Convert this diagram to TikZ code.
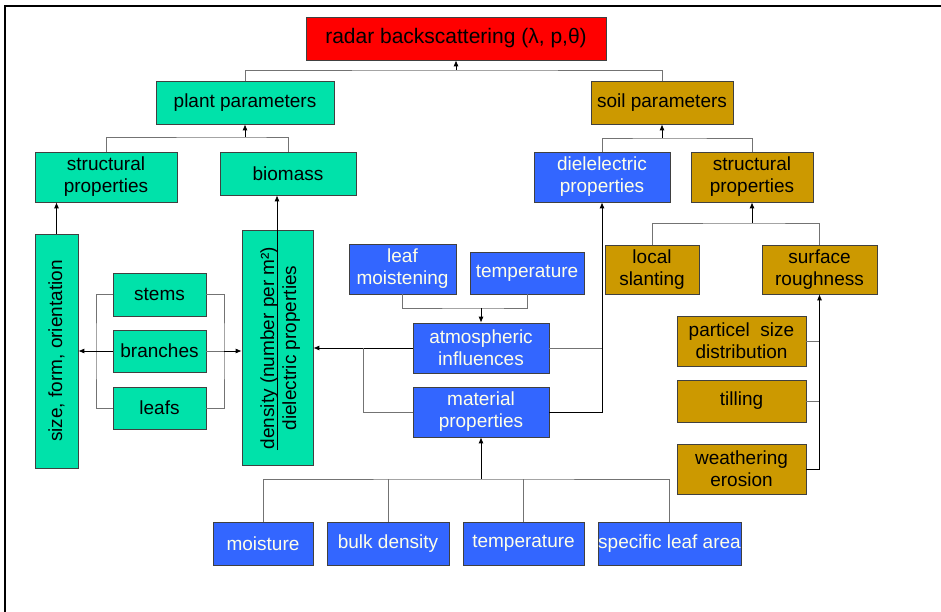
\documentclass[tikz,border=0pt]{standalone}
\usepackage{fontspec}
\setmainfont{Liberation Sans}
\usetikzlibrary{arrows.meta}

\definecolor{plantgreen}{RGB}{0,226,170}
\definecolor{soilbrown}{RGB}{204,153,0}
\definecolor{matblue}{RGB}{51,102,255}
\definecolor{radarred}{RGB}{255,0,0}
\definecolor{paletext}{RGB}{255,255,232}

\tikzset{
  box/.style={draw=black!75, line width=0.7pt, inner sep=0pt, align=center,
    font=\fontsize{19}{22}\selectfont},
  plantbox/.style={box, fill=plantgreen},
  soilbox/.style={box, fill=soilbrown},
  matbox/.style={box, fill=matblue, text=paletext},
  line/.style={draw=black!55, line width=0.8pt},
  arr/.style={draw=black, line width=0.8pt, -{Latex[length=6pt,width=5pt]}}
}

\begin{document}
\begin{tikzpicture}[x=1pt,y=-1pt]
\useasboundingbox (0,0) rectangle (941,612);

% frame
\draw[line width=1.6pt] (5,612) -- (5,6) -- (941,6);

% top levels
\node[box, fill=radarred, minimum width=300, minimum height=43,
  font=\fontsize{21}{24}\selectfont] (radar) at (456,38.5) {radar backscattering (λ, p,θ)};
\node[plantbox, minimum width=178, minimum height=43] (plant) at (245,102.5) {plant parameters};
\node[soilbox, minimum width=142, minimum height=43] (soil) at (662,102.5) {soil parameters};

% plant side
\node[plantbox, minimum width=142, minimum height=50] (pstruct) at (106,177) {structural\\properties};
\node[plantbox, minimum width=136, minimum height=43] (biomass) at (288,173.5) {biomass};
\node[plantbox, rotate=90, minimum width=234, minimum height=43] (size) at (56.5,351) {size, form, orientation};
\node[plantbox, minimum width=93, minimum height=43] (stems) at (159.5,294.5) {stems};
\node[plantbox, minimum width=93, minimum height=42] (branches) at (159.5,351) {branches};
\node[plantbox, minimum width=93, minimum height=42] (leafs) at (159.5,408) {leafs};
\node[plantbox, rotate=90, minimum width=235, minimum height=71] (density) at (277.5,347.5) {};
\node[rotate=90, anchor=base, inner sep=0pt, font=\fontsize{19}{22}\selectfont] (dnum) at (274,348) {density (number per m²)};
\node[rotate=90, anchor=base, inner sep=0pt, font=\fontsize{19}{22}\selectfont] (dden) at (296,348) {dielectric properties};

% middle (blue)
\node[matbox, minimum width=107, minimum height=50] (leafm) at (402.5,269) {leaf\\moistening};
\node[matbox, minimum width=114, minimum height=42] (temptop) at (527,273) {temperature};
\node[matbox, minimum width=136, minimum height=50] (atmo) at (481,348) {atmospheric\\influences};
\node[matbox, minimum width=136, minimum height=50] (material) at (481,412) {material\\properties};
\node[matbox, minimum width=136, minimum height=50] (diel) at (602,177) {dielelectric\\properties};

% bottom row
\node[matbox, minimum width=100, minimum height=43] (moist) at (263,543.5) {moisture};
\node[matbox, minimum width=122, minimum height=43] (bulk) at (388,543.5) {bulk density};
\node[matbox, minimum width=121, minimum height=43] (tempb) at (523.5,543.5) {temperature};
\node[matbox, minimum width=143, minimum height=43] (spec) at (669.5,543.5) {specific leaf area};

% soil side
\node[soilbox, minimum width=122, minimum height=50] (sstruct) at (752,177) {structural\\properties};
\node[soilbox, minimum width=94, minimum height=49] (slant) at (652,269.5) {local\\slanting};
\node[soilbox, minimum width=115, minimum height=49] (rough) at (819.5,269.5) {surface\\roughness};
\node[soilbox, minimum width=129, minimum height=50] (particel) at (741.5,341) {particel~ size\\distribution};
\node[soilbox, minimum width=129, minimum height=42] (tilling) at (741.5,401) {tilling};
\node[soilbox, minimum width=129, minimum height=50] (weather) at (741.5,469) {weathering\\erosion};

% bus points
\coordinate (b1) at (456,70);
\coordinate (b2) at (245,137);
\coordinate (b3) at (662,138);
\coordinate (b4) at (752,223);
\coordinate (lb) at (96,351);
\coordinate (rb) at (224,351);
\coordinate (bar) at (277,450);
\coordinate (b5) at (481,308);
\coordinate (j1) at (363,348);
\coordinate (b6) at (481,479);

% connectors
\draw[line] (plant.north) |- (b1) -| (soil.north);
\draw[arr] (b1) -- (radar.south);
\draw[line] (pstruct.north) |- (b2) -| (biomass.north);
\draw[arr] (b2) -- (plant.south);
\draw[line] (diel.north) |- (b3) -| (sstruct.north);
\draw[arr] (b3) -- (soil.south);
\draw[line] (slant.north) |- (b4) -| (rough.north);
\draw[arr] (b4) -- (sstruct.south);

\draw[arr] (size.east) -- (size.east |- pstruct.south);
\draw[line] (stems.west) -| (lb) |- (leafs.west);
\draw[arr] (branches.west) -- (size.south |- branches.west);
\draw[line] (stems.east) -| (rb) |- (leafs.east);
\draw[line] (branches.east) -- (rb);
\draw[arr] (rb) -- (density.north |- rb);
\draw[arr] (bar) -- (bar |- biomass.south);

\draw[line] (leafm.south) |- (b5) -| (temptop.south);
\draw[arr] (b5) -- (atmo.north);
\draw[arr] (atmo.west) -- (density.south |- atmo.west);
\draw[line] (material.west) -| (j1);
\draw[line] (atmo.east) -- (atmo.east -| diel.south);
\draw[arr] (material.east) -| (diel.south);

\draw[line] (moist.north) |- (b6) -| (spec.north);
\draw[line] (bulk.north) -- (bulk.north |- b6);
\draw[line] (tempb.north) -- (tempb.north |- b6);
\draw[arr] (b6) -- (material.south);

\draw[line] (particel.east) -- (particel.east -| rough.south);
\draw[line] (tilling.east) -- (tilling.east -| rough.south);
\draw[arr] (weather.east) -| (rough.south);
\end{tikzpicture}
\end{document}
